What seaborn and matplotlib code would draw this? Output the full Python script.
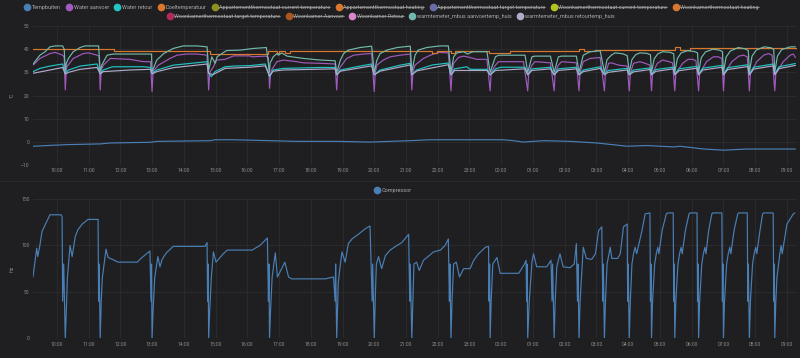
import matplotlib
matplotlib.use('Agg')
import matplotlib.dates as mdates
import pandas as pd
import seaborn as sns
from matplotlib import pyplot as plt
from matplotlib.lines import Line2D

# ---- data (clock time, value) ----
tempbuiten_time = ['09:15', '10:19', '11:22', '11:41', '12:56', '13:10', '14:50', '14:59', '15:34', '16:43',
                   '17:34', '18:49', '19:52', '21:08', '21:46', '00:04', '00:23', '00:42', '01:20', '02:10',
                   '03:01', '03:58', '04:35', '05:26', '05:38', '06:22', '07:00', '07:44', '09:16']
tempbuiten = [-1.9, -1.2, -0.9, -0.5, -0.2, 0.2, 0.5, 0.9, 0.9, 0.5,
              0.2, 0.2, -0.1, 0.5, 0.9, 0.9, 0.5, -0.1, 0.5, 0.2,
              -0.5, -1.9, -1.6, -2.2, -1.9, -3.1, -3.6, -3.1, -3.1]

aanvoer_time = ['09:15', '09:28', '09:47', '09:57', '10:11', '10:14', '10:16', '10:18', '10:19', '10:31',
                '10:50', '11:00', '11:16', '11:20', '11:22', '11:24', '11:28', '11:41', '12:18', '12:44',
                '12:57', '13:00', '13:02', '13:12', '13:34', '13:47', '14:06', '14:25', '14:44', '14:47',
                '14:49', '14:56', '15:02', '15:18', '15:34', '16:05', '16:09', '16:34', '16:40', '16:42',
                '16:44', '16:46', '16:56', '17:08', '17:34', '17:46', '18:18', '18:46', '18:49', '18:51',
                '18:56', '19:08', '19:21', '19:40', '19:55', '20:00', '20:02', '20:05', '20:17', '20:30',
                '20:49', '21:08', '21:11', '21:13', '21:17', '21:33', '21:46', '22:02', '22:20', '22:25',
                '22:27', '22:30', '22:39', '22:49', '23:01', '23:14', '23:33', '23:39', '23:41', '23:49',
                '23:55', '00:42', '00:50', '00:52', '00:58', '01:04', '01:33', '01:40', '01:42', '01:48',
                '01:54', '02:22', '02:27', '02:29', '02:35', '02:48', '03:07', '03:15', '03:17', '03:23',
                '03:28', '03:42', '03:58', '04:02', '04:04', '04:10', '04:22', '04:32', '04:41', '04:44',
                '04:46', '04:55', '05:05', '05:17', '05:24', '05:28', '05:30', '05:43', '05:53', '06:02',
                '06:08', '06:13', '06:15', '06:28', '06:41', '06:50', '06:57', '07:00', '07:02', '07:16',
                '07:29', '07:38', '07:45', '07:49', '07:51', '08:03', '08:16', '08:25', '08:32', '08:37',
                '08:39', '08:53', '09:06', '09:12', '09:16']
water_aanvoer = [33.1, 36.0, 38.1, 38.6, 37.4, 36.5, 22.4, 31.0, 32.4, 36.0,
                 38.1, 38.4, 37.4, 37.0, 22.4, 31.0, 33.1, 36.0, 35.6, 34.6,
                 34.6, 21.7, 30.5, 33.1, 36.0, 37.4, 37.9, 37.9, 37.4, 22.4,
                 30.0, 32.4, 35.3, 35.6, 37.1, 37.1, 36.7, 37.0, 36.5, 23.1,
                 29.0, 31.0, 34.6, 35.3, 34.6, 34.1, 33.9, 33.6, 22.4, 30.0,
                 32.4, 36.0, 37.4, 37.9, 38.1, 21.7, 30.0, 33.1, 35.3, 36.7,
                 37.4, 37.9, 22.4, 30.0, 33.1, 36.0, 37.4, 38.6, 38.4, 22.0,
                 30.0, 33.9, 36.4, 37.0, 36.4, 35.6, 35.6, 22.0, 30.0, 33.1,
                 34.6, 34.6, 22.0, 30.0, 33.1, 34.6, 34.1, 22.0, 30.0, 33.1,
                 34.6, 34.1, 22.0, 30.0, 34.6, 36.0, 36.4, 22.0, 29.6, 33.9,
                 34.1, 33.1, 32.7, 22.0, 29.6, 33.9, 34.6, 33.9, 33.1, 22.0,
                 29.6, 33.9, 35.3, 34.6, 34.1, 22.0, 29.6, 33.9, 35.6, 35.6,
                 35.0, 22.0, 29.6, 34.6, 36.7, 36.7, 36.0, 22.0, 29.6, 34.6,
                 37.0, 37.4, 36.7, 22.0, 29.6, 34.6, 37.4, 38.1, 37.4, 22.0,
                 29.6, 34.6, 37.4, 37.9, 36.4]

retour_time = ['09:15', '09:28', '09:47', '10:11', '10:16', '10:22', '10:44', '11:16', '11:22', '11:28',
               '11:41', '11:45', '12:45', '12:57', '13:00', '13:09', '13:40', '14:44', '14:47', '14:52',
               '14:59', '15:18', '15:34', '16:05', '16:34', '16:42', '16:49', '17:08', '18:18', '18:46',
               '18:49', '18:56', '19:33', '19:55', '20:00', '20:11', '20:49', '21:08', '21:11', '21:20',
               '21:50', '22:20', '22:25', '22:32', '22:55', '23:01', '23:33', '23:39', '23:49', '00:00',
               '00:45', '00:50', '00:58', '01:33', '01:40', '01:48', '02:22', '02:27', '02:35', '03:07',
               '03:15', '03:22', '03:58', '04:02', '04:10', '04:41', '04:44', '04:52', '05:25', '05:28',
               '05:36', '06:10', '06:13', '06:21', '06:57', '07:00', '07:08', '07:46', '07:49', '07:57',
               '08:34', '08:37', '08:45', '09:16']
water_retour = [30.3, 31.7, 32.7, 33.6, 29.6, 31.0, 32.7, 33.6, 29.6, 31.0,
                32.1, 32.4, 32.4, 32.1, 29.6, 31.0, 33.1, 34.6, 29.6, 28.1,
                30.3, 32.4, 32.7, 32.9, 33.6, 28.1, 31.0, 31.7, 32.1, 32.1,
                28.9, 31.0, 32.7, 33.6, 28.9, 31.0, 33.1, 33.9, 28.9, 31.0,
                33.2, 34.0, 28.9, 31.5, 32.4, 31.3, 31.3, 28.9, 31.5, 32.2,
                32.2, 28.9, 31.5, 32.2, 28.9, 31.5, 32.2, 28.9, 31.0, 32.4,
                29.3, 30.8, 31.7, 29.3, 31.0, 31.9, 29.3, 31.2, 32.2, 29.3,
                31.5, 32.6, 29.3, 31.8, 33.0, 29.3, 32.0, 33.3, 29.3, 32.2,
                33.6, 29.3, 32.4, 33.8]

doel_time = ['09:15', '11:49', '14:50', '16:40', '16:56', '17:00', '17:06', '17:12', '17:20', '21:50',
             '21:58', '22:25', '22:32', '23:36', '00:17', '02:27', '02:37', '02:58', '05:28', '05:37',
             '05:57', '09:19']
doeltemperatuur = [40.0, 39.2, 37.9, 39.0, 38.2, 39.4, 39.0, 38.2, 39.0, 38.4,
                   39.0, 38.5, 39.0, 38.2, 39.0, 40.0, 39.1, 39.8, 40.8, 39.8,
                   40.4, 40.4]

wm_aanvoer_time = ['09:15', '09:28', '09:38', '09:47', '09:57', '10:11', '10:14', '10:16', '10:18', '10:22',
                   '10:31', '10:44', '10:53', '11:19', '11:22', '11:25', '11:35', '11:47', '12:59', '13:00',
                   '13:09', '13:22', '13:40', '13:59', '14:25', '14:44', '14:47', '14:53', '14:59', '15:03',
                   '15:12', '15:21', '15:47', '16:11', '16:36', '16:42', '16:43', '16:49', '16:56', '16:59',
                   '17:05', '17:15', '17:46', '18:18', '18:46', '18:49', '18:56', '19:02', '19:11', '19:33',
                   '19:55', '20:00', '20:05', '20:11', '20:24', '20:43', '21:08', '21:11', '21:17', '21:23',
                   '21:39', '22:04', '22:20', '22:25', '22:30', '22:36', '22:49', '22:56', '23:01', '23:07',
                   '23:33', '23:39', '23:49', '23:55', '00:45', '00:50', '00:58', '01:04', '01:33', '01:40',
                   '01:48', '01:54', '02:22', '02:27', '02:35', '02:48', '03:07', '03:15', '03:20', '03:28',
                   '03:35', '03:50', '03:58', '04:02', '04:07', '04:14', '04:22', '04:35', '04:42', '04:44',
                   '04:49', '04:56', '05:05', '05:20', '05:26', '05:28', '05:33', '05:40', '05:52', '06:05',
                   '06:11', '06:13', '06:18', '06:26', '06:40', '06:52', '06:58', '07:00', '07:05', '07:13',
                   '07:28', '07:40', '07:47', '07:49', '07:54', '08:02', '08:17', '08:30', '08:35', '08:37',
                   '08:42', '08:50', '09:06', '09:16']
wm_aanvoer = [33.5, 37.4, 38.9, 41.0, 41.4, 41.4, 40.0, 30.5, 33.9, 36.0,
              38.9, 40.7, 41.4, 41.4, 30.3, 33.1, 37.4, 37.9, 37.9, 30.3,
              35.3, 38.1, 40.3, 41.4, 41.4, 41.0, 31.0, 36.7, 33.9, 36.7,
              38.1, 39.4, 39.6, 40.3, 40.7, 30.0, 33.9, 36.7, 38.1, 37.4,
              38.4, 37.0, 36.0, 35.3, 35.0, 30.0, 35.3, 38.1, 39.6, 40.7,
              41.3, 30.0, 35.3, 38.1, 39.6, 40.7, 41.3, 30.0, 37.4, 39.6,
              40.7, 41.4, 41.4, 30.0, 36.7, 38.4, 38.9, 37.9, 38.4, 38.9,
              38.9, 30.0, 36.7, 37.4, 37.4, 30.0, 36.7, 37.0, 37.0, 30.0,
              36.7, 37.0, 37.0, 30.0, 37.4, 38.9, 39.3, 30.0, 35.5, 37.4,
              38.4, 38.0, 37.2, 30.0, 35.5, 37.6, 38.4, 38.2, 37.6, 30.0,
              35.8, 38.0, 38.9, 38.6, 38.0, 30.0, 36.0, 38.4, 39.3, 39.0,
              38.4, 30.0, 36.3, 38.8, 40.0, 39.6, 39.0, 30.0, 36.6, 39.2,
              40.7, 40.2, 39.4, 30.0, 37.0, 39.6, 41.0, 40.6, 39.8, 30.0,
              37.0, 39.8, 41.0, 41.0]

wm_retour_time = ['09:15', '09:47', '10:11', '10:16', '10:22', '10:44', '11:16', '11:22', '11:28', '12:18',
                  '12:57', '13:00', '13:09', '13:40', '14:44', '14:47', '14:55', '15:18', '16:05', '16:34',
                  '16:42', '16:49', '17:08', '18:46', '18:49', '18:56', '19:55', '20:00', '20:11', '21:08',
                  '21:11', '21:20', '22:20', '22:25', '22:32', '23:01', '23:33', '23:39', '23:49', '00:45',
                  '00:50', '00:58', '01:33', '01:40', '01:48', '02:22', '02:27', '02:35', '03:07', '03:15',
                  '03:22', '03:58', '04:02', '04:10', '04:41', '04:44', '04:52', '05:25', '05:28', '05:36',
                  '06:10', '06:13', '06:21', '06:57', '07:00', '07:08', '07:46', '07:49', '07:57', '08:34',
                  '08:37', '08:45', '09:16']
wm_retour = [29.6, 31.0, 32.1, 29.3, 30.0, 31.3, 32.1, 29.3, 30.3, 31.0,
             31.3, 29.3, 30.3, 32.0, 33.6, 29.6, 29.0, 31.7, 32.2, 32.8,
             28.5, 30.5, 31.0, 31.5, 28.9, 30.5, 32.8, 28.9, 30.5, 33.2,
             28.9, 30.6, 33.3, 28.9, 30.8, 30.8, 30.8, 28.9, 30.8, 31.5,
             28.9, 30.8, 31.5, 28.9, 30.8, 31.5, 28.9, 30.3, 31.7, 28.9,
             30.0, 31.0, 28.9, 30.2, 31.2, 28.9, 30.4, 31.5, 28.9, 30.7,
             31.8, 28.9, 31.0, 32.2, 28.9, 31.2, 32.5, 28.9, 31.4, 32.8,
             28.9, 31.6, 33.0]

compressor_time = ['09:15', '09:22', '09:24', '09:28', '09:32', '09:42', '09:47', '10:08', '10:10', '10:11',
                   '10:13', '10:16', '10:18', '10:20', '10:25', '10:29', '10:35', '10:40', '10:48', '10:59',
                   '11:18', '11:19', '11:20', '11:22', '11:24', '11:26', '11:33', '11:37', '11:45', '11:56',
                   '12:32', '12:41', '12:56', '12:58', '12:59', '13:00', '13:02', '13:05', '13:11', '13:15',
                   '13:19', '13:27', '13:40', '14:40', '14:44', '14:45', '14:46', '14:47', '14:49', '14:52',
                   '14:56', '15:01', '15:13', '15:22', '16:09', '16:24', '16:38', '16:40', '16:41', '16:42',
                   '16:44', '16:47', '16:53', '16:57', '17:11', '17:18', '17:24', '18:27', '18:43', '18:46',
                   '18:47', '18:49', '18:52', '18:56', '18:59', '19:05', '19:11', '19:18', '19:30', '19:43',
                   '19:52', '19:56', '19:57', '20:00', '20:02', '20:04', '20:08', '20:14', '20:21', '20:30',
                   '20:43', '20:52', '21:05', '21:07', '21:08', '21:11', '21:13', '21:15', '21:20', '21:25',
                   '21:33', '21:52', '22:05', '22:14', '22:20', '22:22', '22:23', '22:25', '22:27', '22:30',
                   '22:35', '22:41', '22:49', '23:01', '23:08', '23:17', '23:30', '23:36', '23:37', '23:38',
                   '23:39', '23:41', '23:44', '23:52', '23:58', '00:33', '00:43', '00:47', '00:48', '00:49',
                   '00:50', '00:53', '00:58', '01:01', '01:07', '01:26', '01:34', '01:36', '01:37', '01:40',
                   '01:42', '01:45', '01:51', '01:57', '02:10', '02:18', '02:22', '02:24', '02:25', '02:27',
                   '02:29', '02:33', '02:35', '02:41', '02:51', '02:58', '03:04', '03:10', '03:12', '03:13',
                   '03:15', '03:17', '03:20', '03:26', '03:29', '03:40', '03:45', '03:51', '03:58', '03:59',
                   '04:00', '04:02', '04:04', '04:07', '04:10', '04:13', '04:16', '04:26', '04:32', '04:41',
                   '04:42', '04:43', '04:44', '04:46', '04:50', '04:53', '04:56', '04:58', '05:04', '05:12',
                   '05:15', '05:25', '05:26', '05:27', '05:28', '05:30', '05:34', '05:37', '05:40', '05:42',
                   '05:48', '05:55', '05:57', '06:10', '06:11', '06:12', '06:13', '06:15', '06:19', '06:22',
                   '06:25', '06:27', '06:32', '06:38', '06:40', '06:57', '06:58', '06:59', '07:00', '07:02',
                   '07:06', '07:09', '07:12', '07:14', '07:20', '07:27', '07:29', '07:45', '07:46', '07:47',
                   '07:49', '07:51', '07:55', '07:58', '08:01', '08:03', '08:09', '08:14', '08:16', '08:34',
                   '08:35', '08:36', '08:37', '08:39', '08:41', '08:47', '08:49', '08:51', '09:00', '09:12',
                   '09:15']
compressor = [66, 97, 88, 100, 115, 127, 133, 133, 131, 40,
              80, 0, 30, 65, 100, 88, 110, 117, 123, 128,
              128, 40, 80, 0, 40, 65, 96, 87, 85, 82,
              82, 87, 94, 40, 80, 0, 30, 65, 88, 77,
              85, 92, 99, 99, 103, 40, 80, 0, 30, 65,
              93, 82, 90, 95, 95, 100, 108, 40, 80, 0,
              30, 66, 92, 66, 82, 66, 64, 64, 66, 40,
              80, 0, 60, 80, 93, 82, 102, 107, 112, 118,
              121, 40, 80, 0, 45, 80, 88, 75, 89, 95,
              100, 103, 112, 40, 80, 0, 40, 80, 82, 73,
              84, 93, 95, 100, 107, 40, 80, 0, 40, 80,
              82, 66, 75, 75, 84, 91, 98, 99, 40, 80,
              0, 40, 80, 87, 70, 70, 79, 84, 40, 80,
              0, 40, 82, 91, 77, 77, 84, 40, 80, 0,
              40, 77, 91, 77, 76, 80, 102, 40, 80, 0,
              40, 80, 98, 86, 85, 91, 116, 120, 40, 80,
              0, 40, 80, 98, 86, 86, 91, 120, 123, 40,
              80, 0, 40, 80, 91, 98, 91, 116, 134, 135,
              40, 80, 0, 40, 80, 91, 98, 91, 116, 134,
              135, 135, 40, 80, 0, 40, 80, 91, 98, 91,
              116, 134, 135, 135, 40, 80, 0, 40, 80, 91,
              98, 91, 116, 134, 135, 135, 40, 80, 0, 40,
              80, 91, 98, 91, 116, 134, 135, 135, 40, 80,
              0, 40, 80, 91, 98, 91, 116, 134, 135, 135,
              40, 80, 0, 40, 65, 93, 100, 91, 123, 134,
              135]

legend_row1 = ['Tempbuiten', 'Water aanvoer', 'Water retour', 'Doeltemperatuur',
               'Appartementthermostaat current temperature', 'Appartementthermostaat heating',
               'Appartementthermostaat target temperature', 'Woonkamerthermostaat current temperature',
               'Woonkamerthermostaat heating']
legend_row2 = ['Woonkamerthermostaat target temperature', 'Woonkamer Aanvoer', 'Woonkamer Retour',
               'warmtemeter_mbus aanvoertemp_huis', 'warmtemeter_mbus retourtemp_huis']
hidden = {'Appartementthermostaat current temperature', 'Appartementthermostaat heating',
          'Appartementthermostaat target temperature', 'Woonkamerthermostaat current temperature',
          'Woonkamerthermostaat heating', 'Woonkamerthermostaat target temperature',
          'Woonkamer Aanvoer', 'Woonkamer Retour'}

colors = {
    'Tempbuiten': '#4a7fb5',
    'Water aanvoer': '#a259c0',
    'Water retour': '#22c4c4',
    'Doeltemperatuur': '#d9782c',
    'Appartementthermostaat current temperature': '#8c901e',
    'Appartementthermostaat heating': '#d9782c',
    'Appartementthermostaat target temperature': '#6b6ba8',
    'Woonkamerthermostaat current temperature': '#b3c41e',
    'Woonkamerthermostaat heating': '#d9782c',
    'Woonkamerthermostaat target temperature': '#b02a5e',
    'Woonkamer Aanvoer': '#a9571e',
    'Woonkamer Retour': '#d887cf',
    'warmtemeter_mbus aanvoertemp_huis': '#72b9ab',
    'warmtemeter_mbus retourtemp_huis': '#b1abc9',
    'Compressor': '#4a7fb5',
}

BG = '#1f1f21'
GRID = '#2d2d30'
TXT = '#8c8c8c'


def clock(times):
    # turn HH:MM strings into timestamps, rolling over past midnight
    day = pd.Timestamp('2020-01-01')
    out, prev = [], None
    for t in times:
        h, m = map(int, t.split(':'))
        stamp = day + pd.Timedelta(hours=h, minutes=m)
        if prev is not None and stamp < prev:
            day += pd.Timedelta(days=1)
            stamp += pd.Timedelta(days=1)
        out.append(stamp)
        prev = stamp
    return out


sns.set_theme(style='dark', rc={
    'figure.facecolor': BG, 'axes.facecolor': BG, 'axes.edgecolor': BG,
    'axes.grid': True, 'grid.color': GRID, 'grid.linewidth': 0.6,
    'xtick.color': TXT, 'ytick.color': TXT, 'axes.labelcolor': TXT, 'text.color': TXT,
})
plt.rcParams['font.family'] = ['Roboto', 'DejaVu Sans']

W, H = 800, 358
fig = plt.figure(figsize=(W / 100, H / 100), dpi=100)
ax1 = fig.add_axes([33 / W, 1 - 165 / H, 764 / W, 139 / H])
ax2 = fig.add_axes([33 / W, 1 - 338.3 / H, 764 / W, 139.3 / H])

lw = 0.85
series = [
    ('Tempbuiten', tempbuiten_time, tempbuiten, {}),
    ('Water aanvoer', aanvoer_time, water_aanvoer, {}),
    ('Water retour', retour_time, water_retour, {}),
    ('Doeltemperatuur', doel_time, doeltemperatuur, {'drawstyle': 'steps-post'}),
    ('warmtemeter_mbus aanvoertemp_huis', wm_aanvoer_time, wm_aanvoer, {}),
    ('warmtemeter_mbus retourtemp_huis', wm_retour_time, wm_retour, {}),
]
for name, times, vals, kw in series:
    sns.lineplot(x=clock(times), y=vals, ax=ax1, color=colors[name], lw=lw,
                 estimator=None, sort=False, legend=False, **kw)

sns.lineplot(x=clock(compressor_time), y=compressor, ax=ax2, color=colors['Compressor'],
             lw=lw, estimator=None, sort=False, legend=False)

start = pd.Timestamp('2020-01-01 09:15')
end = pd.Timestamp('2020-01-02 09:19')
for ax in (ax1, ax2):
    ax.set_xlim(start, end)
    ax.xaxis.set_major_locator(mdates.HourLocator())
    ax.xaxis.set_major_formatter(mdates.DateFormatter('%H:%M'))
    ax.tick_params(length=0, labelsize=3.6, pad=2.5, colors=TXT)
    for s in ax.spines.values():
        s.set_visible(False)
    ax.grid(True, color=GRID, lw=0.6)

ax1.set_ylim(-10, 50)
ax1.set_yticks([-10, 0, 10, 20, 30, 40, 50])
ax1.set_ylabel('°C', fontsize=3.8, color=TXT)
ax1.yaxis.set_label_coords(-18 / 764, 0.5)

ax2.set_ylim(0, 150)
ax2.set_yticks([0, 50, 100, 150])
ax2.set_ylabel('Hz', fontsize=3.8, color=TXT)
ax2.yaxis.set_label_coords(-18 / 764, 0.5)

# panel border between the two graphs
fig.add_artist(Line2D([0, 1], [1 - 181 / H] * 2, transform=fig.transFigure, color='#2a2a2d', lw=0.8))


def handles(names):
    return [Line2D([], [], ls='none', marker='o', markersize=4.5, color=colors[n],
                   markeredgecolor=colors[n], label=n) for n in names]


leg_kw = dict(loc='center', frameon=False, fontsize=4.0, handlelength=0.7, handletextpad=0.45,
              columnspacing=1.2, borderpad=0, labelcolor='#a9a9a9')
leg1 = fig.legend(handles=handles(legend_row1), ncol=len(legend_row1),
                  bbox_to_anchor=(392 / W, 1 - 7.7 / H), **leg_kw)
leg2 = fig.legend(handles=handles(legend_row2), ncol=len(legend_row2),
                  bbox_to_anchor=(391 / W, 1 - 16.7 / H), **leg_kw)
leg3 = fig.legend(handles=handles(['Compressor']), ncol=1,
                  bbox_to_anchor=(393 / W, 1 - 190 / H), **leg_kw)

# strike through the hidden series in the legend
fig.canvas.draw()
for leg in (leg1, leg2):
    for txt in leg.get_texts():
        if txt.get_text() in hidden:
            bb = txt.get_window_extent()
            y = bb.y0 + 0.55 * bb.height
            fig.add_artist(Line2D([bb.x0 / W, bb.x1 / W], [y / H, y / H], transform=fig.transFigure,
                                  color='#a9a9a9', lw=0.5))

fig.savefig('out.png', dpi=100, facecolor=BG)
